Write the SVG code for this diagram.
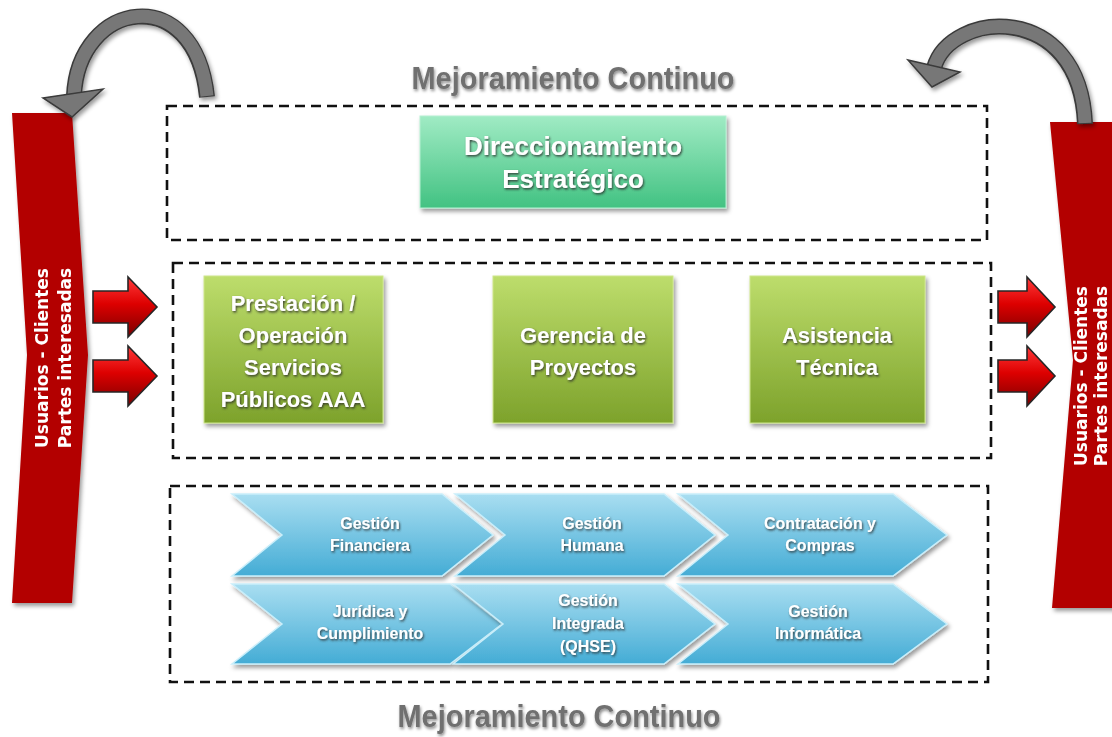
<svg xmlns="http://www.w3.org/2000/svg" width="1112" height="737" viewBox="0 0 1112 737">
<style>
.dash{fill:none;stroke:#111;stroke-width:2.6;stroke-dasharray:10 6}
.title{font-family:"Liberation Sans",Arial,sans-serif;font-weight:bold;font-size:31px;fill:#707070}
.bt{font-family:"Liberation Sans",Arial,sans-serif;font-weight:bold;font-size:22px;fill:#fff;text-anchor:middle}
.dt{font-family:"Liberation Sans",Arial,sans-serif;font-weight:bold;font-size:26px;fill:#fff;text-anchor:middle}
.ct{font-family:"Liberation Sans",Arial,sans-serif;font-weight:bold;font-size:16px;fill:#fff;text-anchor:middle}
.rt{font-family:"DejaVu Sans",Verdana,sans-serif;font-weight:bold;font-size:17px;fill:#fff;text-anchor:middle}
.gbox{fill:url(#gYG);stroke:#cde68a;stroke-width:1}
.chev{fill:url(#gBlue);stroke:#c9eefa;stroke-width:1.5}
.red{fill:url(#gRed);stroke:#262626;stroke-width:1.6}
.band{fill:#b30303}
.arcO{fill:none;stroke:#3a3a3a;stroke-width:16}
.arcI{fill:none;stroke:#777;stroke-width:13}
.head{fill:#777;stroke:#3a3a3a;stroke-width:1.5;stroke-linejoin:miter}
</style>
<defs>
<linearGradient id="gYG" x1="0" y1="0" x2="0" y2="1"><stop offset="0" stop-color="#bddd6c"/><stop offset="1" stop-color="#7da22b"/></linearGradient>
<linearGradient id="gGreen" x1="0" y1="0" x2="0" y2="1"><stop offset="0" stop-color="#a0ebc4"/><stop offset="1" stop-color="#42c282"/></linearGradient>
<linearGradient id="gBlue" x1="0" y1="0" x2="0" y2="1"><stop offset="0" stop-color="#a9def1"/><stop offset="1" stop-color="#44acd5"/></linearGradient>
<linearGradient id="gRed" x1="0" y1="0" x2="0" y2="1"><stop offset="0" stop-color="#ff3a3a"/><stop offset="0.45" stop-color="#dd0000"/><stop offset="1" stop-color="#7a0000"/></linearGradient>
<filter id="ts" x="-10%" y="-30%" width="120%" height="160%"><feDropShadow dx="1" dy="1.5" stdDeviation="0.8" flood-color="#2a2a2a" flood-opacity="0.85"/></filter>
<filter id="tts" x="-10%" y="-30%" width="120%" height="160%"><feDropShadow dx="1" dy="2" stdDeviation="1.5" flood-color="#000" flood-opacity="0.45"/></filter>
<filter id="bs" x="-10%" y="-10%" width="125%" height="125%"><feDropShadow dx="2" dy="3" stdDeviation="2" flood-color="#000" flood-opacity="0.4"/></filter>
</defs>
<rect width="1112" height="737" fill="#fff"/>

<g id="titles">
<text class="title" x="573" y="89" text-anchor="middle" textLength="323" lengthAdjust="spacingAndGlyphs" filter="url(#tts)">Mejoramiento Continuo</text>
<text class="title" x="559" y="727" text-anchor="middle" textLength="323" lengthAdjust="spacingAndGlyphs" filter="url(#tts)">Mejoramiento Continuo</text>
</g>

<g id="groups">
<rect class="dash" x="167" y="106" width="820" height="134"/>
<rect class="dash" x="173" y="263" width="818" height="195"/>
<rect class="dash" x="170" y="486" width="818" height="196"/>
</g>

<g id="banner-left" filter="url(#bs)">
<path class="band" d="M12,113 L72,113 L88,355 L72,603 L12,603 L27,355 Z"/>
<text class="rt" transform="translate(48,358) rotate(-90)">Usuarios - Clientes</text>
<text class="rt" transform="translate(71,358) rotate(-90)">Partes interesadas</text>
</g>
<g id="banner-right" filter="url(#bs)">
<path class="band" d="M1050,122 L1125,122 L1146,360 L1125,608 L1052,608 L1073,360 Z"/>
<text class="rt" transform="translate(1087,376) rotate(-90)">Usuarios - Clientes</text>
<text class="rt" transform="translate(1107,376) rotate(-90)">Partes interesadas</text>
</g>

<g id="direccionamiento" filter="url(#bs)">
<rect x="420" y="116" width="306" height="92" fill="url(#gGreen)" stroke="#b5f0d2" stroke-width="1"/>
<text class="dt" x="573" y="155" filter="url(#ts)">Direccionamiento</text>
<text class="dt" x="573" y="188" filter="url(#ts)">Estratégico</text>
</g>

<g id="prestacion">
<rect class="gbox" x="204" y="276" width="179" height="147" filter="url(#bs)"/>
<g filter="url(#ts)">
<text class="bt" x="293" y="311">Prestación /</text>
<text class="bt" x="293" y="343">Operación</text>
<text class="bt" x="293" y="375">Servicios</text>
<text class="bt" x="293" y="407">Públicos AAA</text>
</g>
</g>
<g id="gerencia">
<rect class="gbox" x="493" y="276" width="180" height="147" filter="url(#bs)"/>
<g filter="url(#ts)">
<text class="bt" x="583" y="343">Gerencia de</text>
<text class="bt" x="583" y="375">Proyectos</text>
</g>
</g>
<g id="asistencia">
<rect class="gbox" x="750" y="276" width="175" height="147" filter="url(#bs)"/>
<g filter="url(#ts)">
<text class="bt" x="837" y="343">Asistencia</text>
<text class="bt" x="837" y="375">Técnica</text>
</g>
</g>

<g id="gestion-financiera">
<path class="chev" d="M232,494 L442,494 L493,535 L442,576 L232,576 L282,535 Z" filter="url(#bs)"/>
<g filter="url(#ts)"><text class="ct" x="370" y="529">Gestión</text><text class="ct" x="370" y="551">Financiera</text></g>
</g>
<g id="gestion-humana">
<path class="chev" d="M455,494 L664,494 L715,535 L664,576 L455,576 L505,535 Z" filter="url(#bs)"/>
<g filter="url(#ts)"><text class="ct" x="592" y="529">Gestión</text><text class="ct" x="592" y="551">Humana</text></g>
</g>
<g id="contratacion">
<path class="chev" d="M678,494 L893,494 L947,535 L893,576 L678,576 L728,535 Z" filter="url(#bs)"/>
<g filter="url(#ts)"><text class="ct" x="820" y="529">Contratación y</text><text class="ct" x="820" y="551">Compras</text></g>
</g>
<g id="juridica">
<path class="chev" d="M232,584 L450,584 L502,624 L450,664 L232,664 L282,624 Z" filter="url(#bs)"/>
<g filter="url(#ts)"><text class="ct" x="370" y="617">Jurídica y</text><text class="ct" x="370" y="639">Cumplimiento</text></g>
</g>
<g id="gestion-integrada">
<path class="chev" d="M453,584 L664,584 L715,624 L664,664 L453,664 L503,624 Z" filter="url(#bs)"/>
<g filter="url(#ts)"><text class="ct" x="588" y="606">Gestión</text><text class="ct" x="588" y="629">Integrada</text><text class="ct" x="588" y="652">(QHSE)</text></g>
</g>
<g id="gestion-informatica">
<path class="chev" d="M678,584 L893,584 L947,624 L893,664 L678,664 L728,624 Z" filter="url(#bs)"/>
<g filter="url(#ts)"><text class="ct" x="818" y="617">Gestión</text><text class="ct" x="818" y="639">Informática</text></g>
</g>

<g id="connectors">
<g filter="url(#bs)">
<path class="arcO" d="M74,96 C78,0 195,-20 207,97"/>
<path class="arcI" d="M74,96 C78,0 195,-20 207,96"/>
<polygon class="head" points="43,98 103,89 72,117"/>
</g>
<g filter="url(#bs)">
<path class="arcO" d="M934,68 C950,10 1080,0 1085,124"/>
<path class="arcI" d="M934,68 C950,10 1080,0 1085,123"/>
<polygon class="head" points="908,60 960,72 932,87"/>
</g>
<path class="red" d="M93,291 L128,291 L128,277 L157,307 L128,337 L128,323 L93,323 Z"/>
<path class="red" d="M93,360 L128,360 L128,346 L157,376 L128,406 L128,392 L93,392 Z"/>
<path class="red" d="M998,291 L1027,291 L1027,277 L1055,307 L1027,337 L1027,323 L998,323 Z"/>
<path class="red" d="M998,360 L1027,360 L1027,346 L1055,376 L1027,406 L1027,392 L998,392 Z"/>
</g>
</svg>
